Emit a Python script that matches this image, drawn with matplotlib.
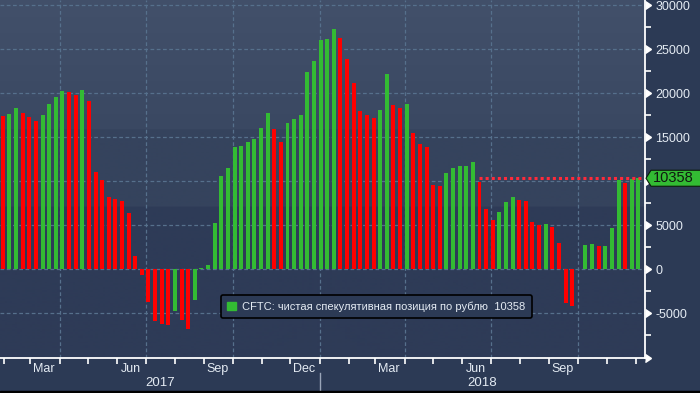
import numpy as np
import pandas as pd
import matplotlib
matplotlib.use("Agg")
import matplotlib.pyplot as plt
import matplotlib.dates as mdates
from matplotlib.patches import Patch, Polygon, Rectangle
from matplotlib.transforms import blended_transform_factory, IdentityTransform

plt.rcParams['font.family'] = ['Liberation Sans', 'DejaVu Sans']

# weekly CFTC net speculative position on RUB (contracts)
series_name = "CFTC: чистая спекулятивная позиция по рублю"
prev_value = 17600  # week before the first bar
values = [
    17420, 17640, 18320, 17760, 17300, 16850, 17530, 18780, 19570, 20250,
    20150, 19800, 20370, 19120, 11050, 10140, 8210, 7980, 7760, 6400,
    1510, -650, -3680, -5870, -6180, -6330, -4740, -5760, -6780, -3490,
    150, 490, 5260, 10600, 11510, 13890, 14010, 14460, 14800, 16050,
    17760, 15940, 14460, 16620, 17070, 17530, 22410, 23660, 26050, 26160,
    27300, 26280, 23890, 21160, 17990, 17530, 17190, 18100, 22190, 18660,
    18320, 18780, 15480, 14230, 13890, 9580, 9460, 10940, 11510, 11720,
    11760, 12190, 9920, 6850, 5600, 6510, 7650, 8210, 7870, 7760,
    5370, 5030, 5150, 4800, 2980, -3830, -4170, 80, 2760, 2870,
    2650, 2680, 4690, 10140, 9800, 10250, 10358,
]
dates = pd.date_range(end="2018-12-04", periods=len(values), freq="7D")
month_labels = ["Mar", "Jun", "Sep", "Dec", "Mar", "Jun", "Sep"]
month_label_dates = ["2017-03-15", "2017-06-15", "2017-09-15", "2017-12-15",
                     "2018-03-15", "2018-06-15", "2018-09-15"]
years = ["2017", "2018"]
last_line_from = 72  # index of the bar where the last-value line starts

green = "#33bb33"
red = "#ff0000"
fg = "#e4ebf3"

vals = np.array(values)
diffs = np.diff(np.concatenate([[prev_value], vals]))
colors = [green if d >= 0 else red for d in diffs]

W, H = 700, 393
fig = plt.figure(figsize=(W / 100, H / 100), dpi=100)
fig.patch.set_facecolor("#2c3a55")
ax_l, ax_r, ax_top, ax_bot = 0, 645, 0, 357.5
ax = fig.add_axes([ax_l / W, 1 - ax_bot / H, (ax_r - ax_l) / W, (ax_bot - ax_top) / H])

# banded background
n = int(ax_bot)
grad = np.zeros((n, 1, 3))
for r in range(n):
    if r < 129:
        t = r / 129
        c = np.array([66, 80, 106]) * (1 - t) + np.array([58, 72, 98]) * t
    elif r < 206:
        c = np.array([53, 67, 93])
    else:
        c = np.array([46, 59, 87])
    grad[r, 0] = c / 255
ax.imshow(grad, extent=[0, 1, 0, 1], transform=ax.transAxes, aspect="auto", zorder=0)

x0 = pd.Timestamp("2017-01-28")
x1 = pd.Timestamp("2018-12-11")
ax.set_xlim(x0, x1)
ax.set_ylim(-10000, 30600)

ax.bar(dates, vals, width=4.2, color=colors, zorder=3)

# grid
for yv in range(-10000, 30001, 5000):
    ax.axhline(yv, color="#56708c", lw=0.9, ls=(0, (3, 2)), zorder=1)
for q in pd.date_range("2017-04-01", "2018-12-01", freq="QS"):
    ax.axvline(q, color="#56708c", lw=0.9, ls=(0, (3, 2)), zorder=1)

# last value dotted line
last = values[-1]
ax.hlines(last, dates[last_line_from], x1, colors="#ff2a3a", lw=2.2,
          linestyles=(0, (1, 1)), zorder=4)

for s in ["top", "left"]:
    ax.spines[s].set_visible(False)
for s in ["right", "bottom"]:
    ax.spines[s].set_color("white")
    ax.spines[s].set_linewidth(1.3)
    ax.spines[s].set_zorder(5)

# x axis
ax.xaxis.set_major_locator(matplotlib.ticker.FixedLocator(mdates.date2num(pd.to_datetime(month_label_dates))))
ax.set_xticklabels(month_labels)
ax.xaxis.set_minor_locator(mdates.MonthLocator())
ax.tick_params(axis="x", which="major", length=0, pad=4, labelsize=9, labelcolor=fg)
ax.tick_params(axis="x", which="minor", length=4, width=1.2, color="white", direction="out")

tr = blended_transform_factory(ax.transData, ax.transAxes)
y_start = mdates.date2num(x0)
y_mid = mdates.date2num(pd.Timestamp("2018-01-01"))
y_end = mdates.date2num(x1)
ax.text((y_start + y_mid) / 2, -0.071, years[0], transform=tr, ha="center", va="center",
        color=fg, fontsize=9.5)
ax.text((y_mid + y_end) / 2, -0.071, years[1], transform=tr, ha="center", va="center",
        color=fg, fontsize=9.5)
ax.plot([y_mid, y_mid], [-0.043, -0.097], transform=tr, color="#9aa5b8", lw=1, clip_on=False)

# y axis on the right
last = values[-1]
yt = list(range(-5000, 30001, 5000))
ax.yaxis.tick_right()
ax.set_yticks(yt)
# the 10000 label sits under the last-value tag
ax.set_yticklabels(["" if abs(v - last) < 2000 else str(v) for v in yt])
ax.set_yticks(range(-7500, 30001, 5000), minor=True)
ax.tick_params(axis="y", which="major", length=0, pad=7.5, labelsize=9, labelcolor=fg)
ax.tick_params(axis="y", which="minor", length=4, width=1.2, color="white", direction="out")
ytr = blended_transform_factory(ax.transAxes, ax.transData)
ax.plot([1.0] * len(yt), yt, transform=ytr, linestyle="none", marker=9, ms=6,
        color="white", clip_on=False, zorder=6)
ax.plot([1.0], [-10000], transform=ytr, linestyle="none", marker=9, ms=6,
        color="white", clip_on=False, zorder=6)

# last value tag
fig.canvas.draw()
px, py = ax.transAxes.transform((1, 0))[0], ax.transData.transform((0, last))[1]
tag = Polygon([[px + 1, py], [px + 6, py + 8], [W + 5, py + 8], [W + 5, py - 8], [px + 6, py - 8]],
              closed=True, facecolor=green, edgecolor="#0b1a0b", lw=0.8,
              transform=IdentityTransform(), clip_on=False, zorder=7)
fig.patches.append(tag)
fig.text((px + 8) / W, py / H, str(last), ha="left", va="center", fontsize=10.5,
         color="#101810", zorder=10)

# legend
leg = ax.legend(handles=[Patch(facecolor=green, edgecolor=green)],
                labels=[f"{series_name}  {last}"], loc="center",
                bbox_to_anchor=(376.5 / W, 1 - 306.5 / H), bbox_transform=fig.transFigure,
                fontsize=8, handlelength=0.75, handleheight=0.75, handletextpad=0.6,
                borderpad=0.55, framealpha=1, facecolor="#2c3a55", edgecolor="black",
                fancybox=True)
for t in leg.get_texts():
    t.set_color(fg)
leg.get_frame().set_linewidth(1.2)
leg.set_zorder(8)

fig.patches.append(Rectangle((0, 0), 1, 2 / H, transform=fig.transFigure, color="black"))

fig.savefig("out.png", dpi=100, facecolor=fig.get_facecolor())
